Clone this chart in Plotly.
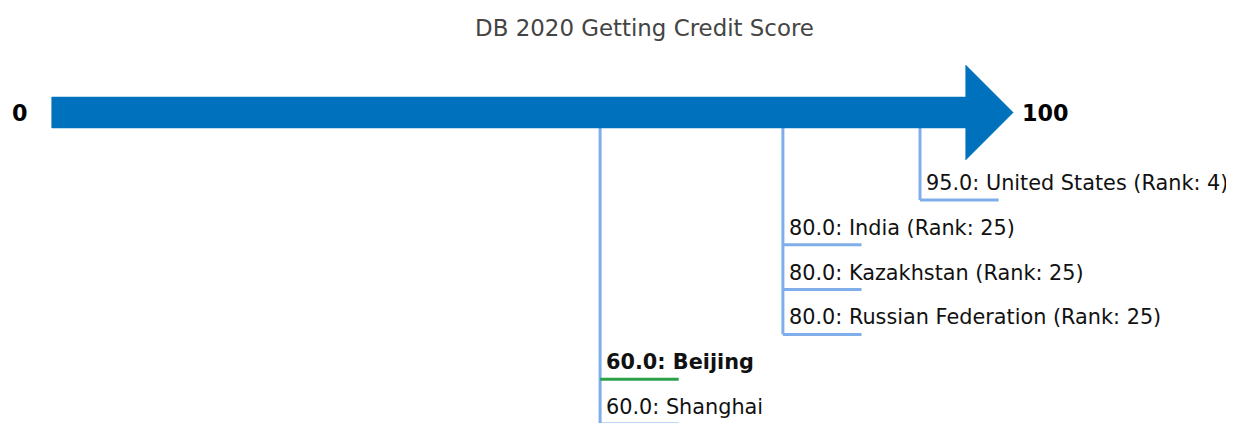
import plotly.graph_objects as go

# ---- data ----
title_text = "DB 2020 Getting Credit Score"
names = ["United States", "India", "Kazakhstan", "Russian Federation", "Beijing", "Shanghai"]
scores = [95.0, 80.0, 80.0, 80.0, 60.0, 60.0]
ranks = [4, 25, 25, 25, None, None]
highlight = [False, False, False, False, True, False]
axis_min = 0
axis_max = 100

# ---- style / layout constants (page has an 8px body margin) ----
OFF = 8
W, H = 1234 - OFF, 423 - OFF
px_per_unit = 9.14
x0_px = 51.7 - OFF
row_px = 44.8
arrow_px = 112.5 - OFF
first_row_px = 200.0 - OFF
text_up_px = 17

x_range = [-x0_px / px_per_unit, (W - x0_px) / px_per_unit]
y_range = [-(H - arrow_px) / row_px, arrow_px / row_px]
first_row = (first_row_px - arrow_px) / row_px

shaft_half = 15.5 / row_px
head_half = 47.5 / row_px
head_len = 47.5 / px_per_unit
under_len = 8.6
text_up = text_up_px / row_px

ARROW = "#0072BD"
LINE = "#7FAEEA"
GREEN = "#2CA04A"
TXT = "#111111"
FONT = "DejaVu Sans"

fig = go.Figure()

rows = [-(first_row + k) for k in range(len(names))]

# vertical stems: one per distinct score, reaching the lowest row of its group
done = set()
for i, s in enumerate(scores):
    if s in done:
        continue
    done.add(s)
    idx = [j for j, v in enumerate(scores) if v == s]
    low = min(rows[j] for j in idx)
    if s == min(scores):
        low = y_range[0] - 1
    fig.add_trace(go.Scatter(x=[s, s], y=[0, low], mode="lines",
                             line=dict(color=LINE, width=3), hoverinfo="skip",
                             showlegend=False))

# underlines
for i, s in enumerate(scores):
    fig.add_trace(go.Scatter(x=[s, s + under_len], y=[rows[i], rows[i]], mode="lines",
                             line=dict(color=GREEN if highlight[i] else LINE, width=3),
                             hoverinfo="skip", showlegend=False))

# arrow
ax = [axis_min, axis_max, axis_max, axis_max + head_len, axis_max, axis_max, axis_min, axis_min]
ay = [shaft_half, shaft_half, head_half, 0, -head_half, -shaft_half, -shaft_half, shaft_half]
fig.add_trace(go.Scatter(x=ax, y=ay, mode="lines", fill="toself", fillcolor=ARROW,
                         line=dict(color=ARROW, width=0.5), hoverinfo="skip", showlegend=False))

annotations = []
for i, s in enumerate(names):
    label = f"{scores[i]:.1f}: {names[i]}"
    if ranks[i] is not None:
        label += f" (Rank: {ranks[i]})"
    if highlight[i]:
        label = f"<b>{label}</b>"
    annotations.append(dict(x=scores[i], y=rows[i] + text_up, xref="x", yref="y", text=label,
                            showarrow=False, xanchor="left", yanchor="middle",
                            xshift=4,
                            font=dict(family=FONT, size=20.8, color=TXT)))

annotations.append(dict(x=axis_min, y=0, xref="x", yref="y", text=f"<b>{axis_min}</b>",
                        showarrow=False, xanchor="right", yanchor="middle", xshift=-22,
                        font=dict(family=FONT, size=22.3, color="#000000")))
annotations.append(dict(x=axis_max + head_len, y=0, xref="x", yref="y", text=f"<b>{axis_max}</b>",
                        showarrow=False, xanchor="left", yanchor="middle", xshift=7,
                        font=dict(family=FONT, size=22.3, color="#000000")))

fig.update_layout(
    width=W, height=H,
    margin=dict(l=0, r=0, t=0, b=0),
    paper_bgcolor="white", plot_bgcolor="white",
    title=dict(text=title_text, x=(644.5 - OFF) / W, xanchor="center", xref="container",
               y=1 - (28 - OFF) / H, yanchor="middle", yref="container",
               font=dict(family=FONT, size=22.9, color="#444444")),
    xaxis=dict(range=x_range, visible=False, fixedrange=True),
    yaxis=dict(range=y_range, visible=False, fixedrange=True),
    annotations=annotations,
    showlegend=False,
)

fig.write_html("out.html")
